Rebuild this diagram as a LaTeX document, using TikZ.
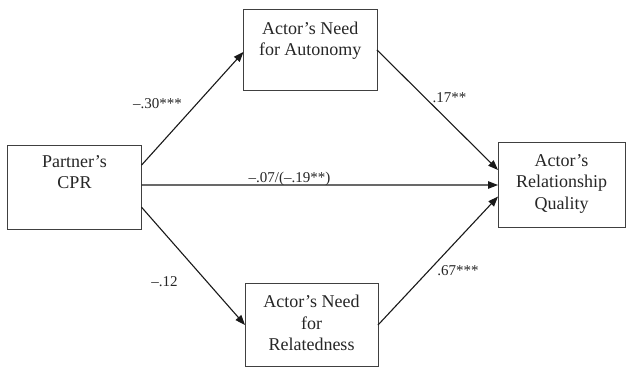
\documentclass[tikz,border=0pt]{standalone}
\usepackage{fontspec}
\setmainfont{Liberation Serif}
\usetikzlibrary{arrows.meta,calc}
\tikzset{
  box/.style={draw=black!75, line width=0.9pt, rectangle, inner sep=0pt, outer sep=0pt},
  boxtext/.style={anchor=north, inner sep=0pt, align=center, text=black!85,
    font=\fontsize{18}{21.5}\selectfont},
  coef/.style={anchor=base, inner sep=0pt, text=black!85, font=\fontsize{15}{17}\selectfont},
  path/.style={draw=black!90, line width=1.1pt, -{Triangle[length=10pt,width=7.5pt]}}
}
\begin{document}
\begin{tikzpicture}[x=1pt,y=-1pt]
\useasboundingbox (0,0) rectangle (626,368);
\fill[white] (0,0) rectangle (626,368);
% boxes
\node[box, minimum width=134pt, minimum height=84pt] (cpr) at (74.5,187) {};
\node[box, minimum width=133.5pt, minimum height=81pt] (aut) at (310.25,49.5) {};
\node[box, minimum width=133pt, minimum height=83pt] (rel) at (311.5,325) {};
\node[box, minimum width=127pt, minimum height=84.5pt] (qual) at (561.5,184.75) {};
% box texts
\node[boxtext] (cprt) at (74.5,155) {Partner’s\\CPR};
\node[boxtext] (autt) at (310.25,21.5) {Actor’s Need\\for Autonomy};
\node[boxtext] (relt) at (311.5,295) {Actor’s Need\\for\\Relatedness};
\node[boxtext] (qualt) at (561.5,154) {Actor’s\\Relationship\\Quality};
% connectors
\draw[path] ($(cpr.north east)!0.24!(cpr.south east)$) -- ($(aut.north west)!0.53!(aut.south west)$);
\draw[path] ($(cpr.north east)!0.476!(cpr.south east)$) -- ($(qual.north west)!0.503!(qual.south west)$);
\draw[path] ($(cpr.north east)!0.74!(cpr.south east)$) -- ($(rel.north west)!0.5!(rel.south west)$);
\draw[path] ($(aut.north east)!0.506!(aut.south east)$) -- ($(qual.north west)!0.325!(qual.south west)$);
\draw[path] ($(rel.north east)!0.5!(rel.south east)$) -- ($(qual.north west)!0.64!(qual.south west)$);
% coefficients
\node[coef] (c1) at (157.5,108) {–.30***};
\node[coef] (c2) at (449.5,102) {.17**};
\node[coef] (c3) at (289.5,182) {–.07/(–.19**)};
\node[coef] (c4) at (164.5,286) {–.12};
\node[coef] (c5) at (458,275) {.67***};
\end{tikzpicture}
\end{document}
